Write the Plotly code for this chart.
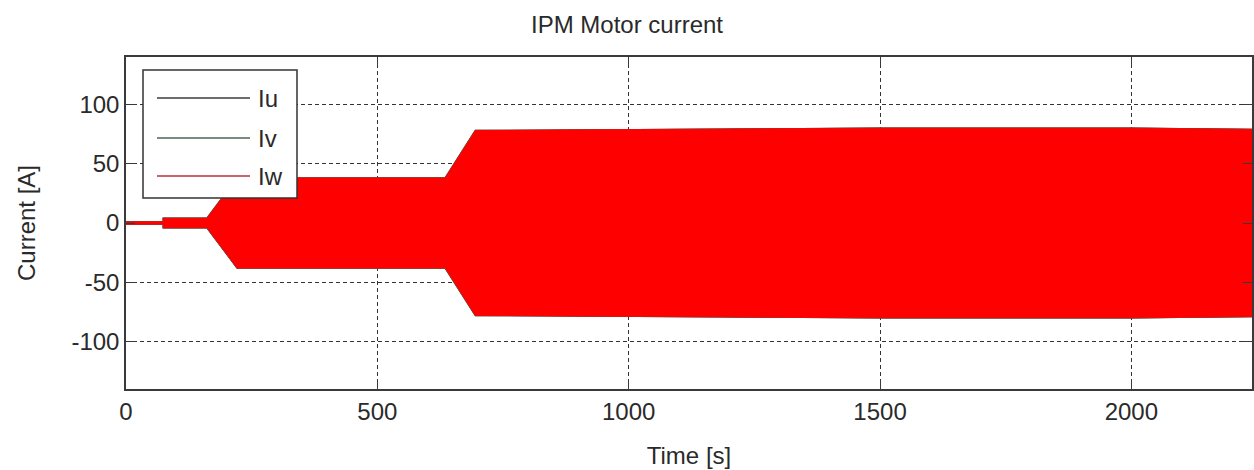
import plotly.graph_objects as go

# Envelope of the (dense, high-frequency) phase currents
time_s = [0, 74, 74, 161, 221, 635, 695, 1000, 1500, 2000, 2240]
env_upper = [1, 1, 4, 4, 38, 38, 78, 79, 80, 80, 79]
env_lower = [-1, -1, -4, -4, -38, -38, -78, -79, -80, -80, -79]

series_names = ["Iu", "Iv", "Iw"]
series_line_colors = ["#3c3c3c", "#4b6450", "#b8333a"]
series_fill_colors = ["#3c3c3c", "#4b6450", "#ff0000"]

x_ticks = [0, 500, 1000, 1500, 2000]
x_tick_text = ["0", "500", "1000", "1500", "2000"]
y_ticks = [-100, -50, 0, 50, 100]
y_tick_text = ["-100", "-50", "0", "50", "100"]

fig = go.Figure()

poly_x = time_s + time_s[::-1]
poly_y = env_upper + env_lower[::-1]
for i, name in enumerate(series_names):
    fig.add_trace(go.Scatter(
        x=poly_x, y=poly_y, fill="toself", mode="lines",
        line=dict(color=series_line_colors[i] if i < 2 else series_fill_colors[i],
                  width=1.3 if i < 2 else 0.8),
        fillcolor=series_fill_colors[i], name=name, showlegend=False,
        hoverinfo="skip",
    ))

font_family = "Liberation Sans, Arial, sans-serif"
txt = "#2a2a2a"
fs = 24

axis_common = dict(
    showline=True, linecolor="#3a3a3a", linewidth=1.5, mirror="ticks",
    ticks="inside", ticklen=9, tickwidth=1.2, tickcolor="#3a3a3a",
    showgrid=True, gridcolor="#333333", gridwidth=1, griddash="4px,3px",
    zeroline=False, tickfont=dict(family=font_family, size=fs, color=txt),
    layer="above traces",
)

fig.update_layout(
    width=1254, height=470,
    margin=dict(l=126, r=2, t=57, b=81, autoexpand=False),
    paper_bgcolor="white", plot_bgcolor="white",
    title=dict(text="IPM Motor current", x=0.5, xanchor="center",
               y=1 - 25 / 470, yanchor="middle",
               font=dict(family=font_family, size=fs, color=txt)),
    xaxis=dict(range=[0, 2240], tickvals=x_ticks, ticktext=x_tick_text,
               title=dict(text="Time [s]", standoff=24,
                          font=dict(family=font_family, size=fs, color=txt)),
               **axis_common),
    yaxis=dict(range=[-140, 140], tickvals=y_ticks, ticktext=y_tick_text,
               title=dict(text="Current [A]", standoff=29,
                          font=dict(family=font_family, size=fs, color=txt)),
               **axis_common),
    showlegend=False,
)

# Manual legend box (MATLAB style)
W, H = 1254 - 126 - 2, 470 - 57 - 81
def px(xp):
    return (xp - 126) / W
def py(yp):
    return 1 - (yp - 57) / H

fig.add_shape(type="rect", xref="paper", yref="paper",
              x0=px(143), x1=px(297), y0=py(198), y1=py(70),
              line=dict(color="#333333", width=1.5), fillcolor="white", layer="above")
row_y = [98, 138, 176]
for i, name in enumerate(series_names):
    fig.add_shape(type="line", xref="paper", yref="paper",
                  x0=px(157), x1=px(250), y0=py(row_y[i]), y1=py(row_y[i]),
                  line=dict(color=series_line_colors[i], width=1.6), layer="above")
    fig.add_annotation(xref="paper", yref="paper", x=px(256), y=py(row_y[i]),
                       text=name, showarrow=False, xanchor="left", yanchor="middle",
                       font=dict(family=font_family, size=fs, color=txt))

fig.write_html("out.html")
